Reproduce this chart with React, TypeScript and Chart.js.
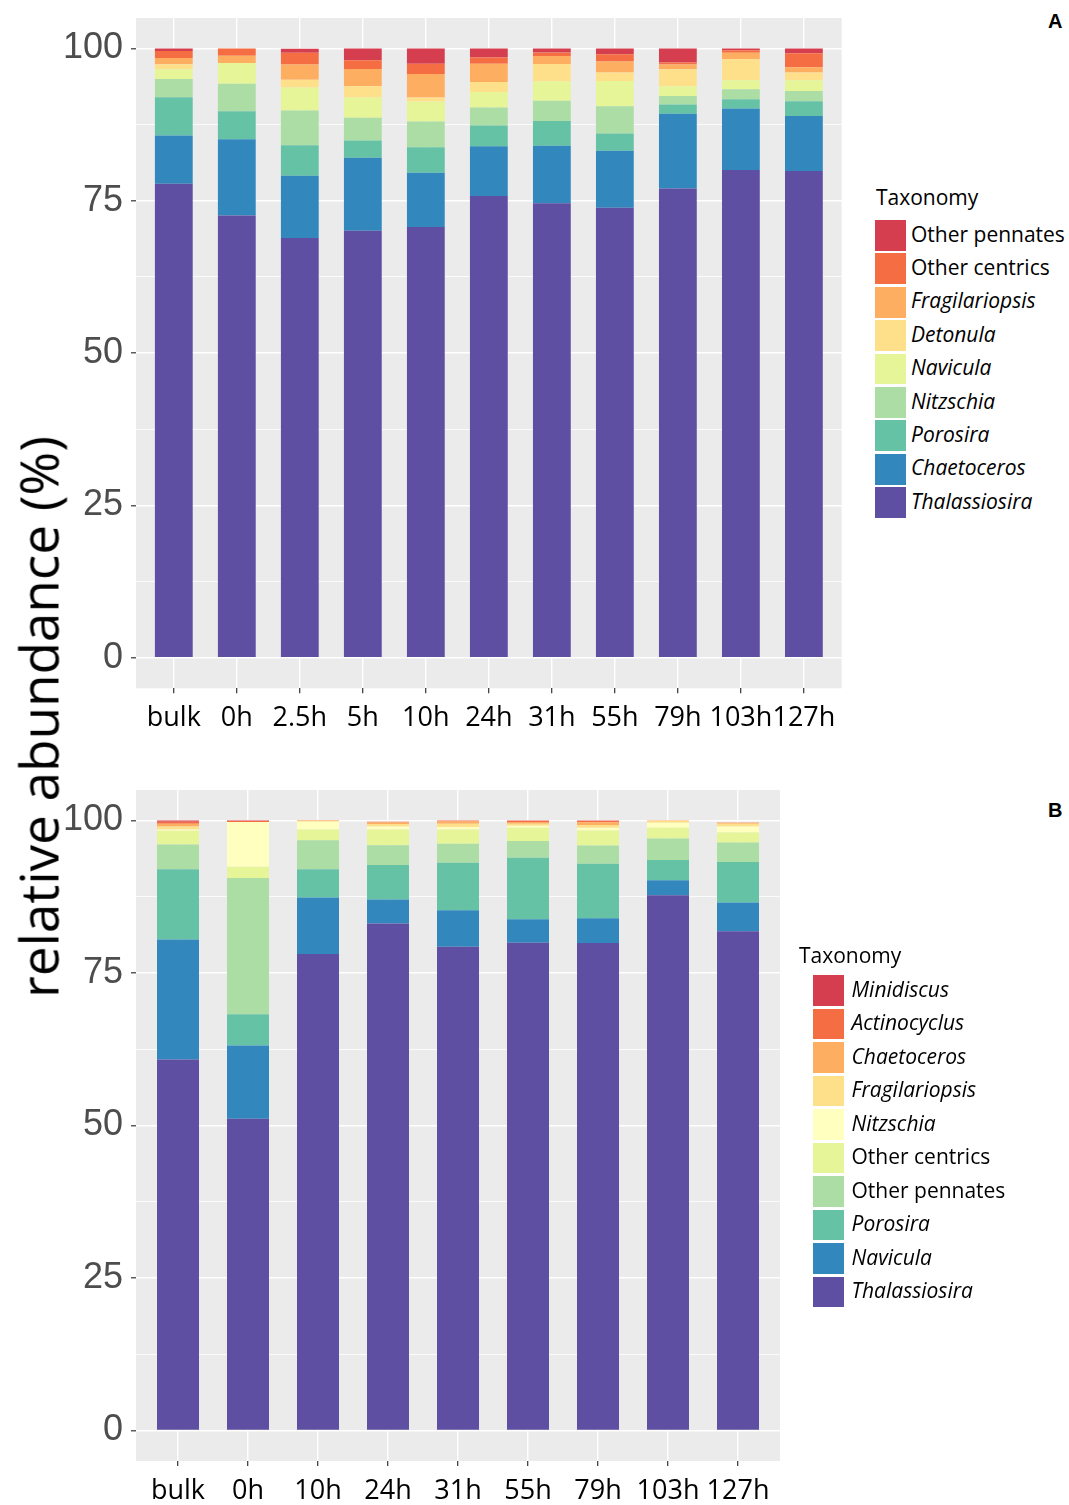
import React, { useEffect, useRef } from "react";
import { Chart, registerables } from "chart.js";

Chart.register(...registerables);

// ---------- Panel A data ----------
const categoriesA = ["bulk", "0h", "2.5h", "5h", "10h", "24h", "31h", "55h", "79h", "103h", "127h"];
const seriesNamesA = ["Thalassiosira", "Chaetoceros", "Porosira", "Nitzschia", "Navicula", "Detonula", "Fragilariopsis", "Other centrics", "Other pennates"];
const thalA = [77.8, 72.6, 68.9, 70.1, 70.7, 75.8, 74.6, 73.85, 77.0, 80.05, 79.9];
const chaetA = [7.9, 12.5, 10.2, 11.95, 8.9, 8.15, 9.45, 9.35, 12.3, 10.08, 9.0];
const poroA = [6.3, 4.6, 5.0, 2.85, 4.2, 3.4, 4.05, 2.85, 1.5, 1.54, 2.43];
const nitzA = [3.0, 4.5, 5.7, 3.75, 4.2, 2.95, 3.3, 4.45, 1.4, 1.64, 1.7];
const naviA = [1.6, 3.4, 3.8, 3.3, 3.3, 2.55, 3.2, 4.17, 1.6, 1.48, 1.76];
const detoA = [0.8, 0, 1.27, 1.85, 0.65, 1.65, 2.87, 1.38, 2.8, 3.45, 1.26];
const fragA = [1.05, 1.2, 2.5, 2.85, 3.85, 3.0, 1.31, 1.81, 0.77, 1.04, 0.88];
const otherCentricsA = [1.15, 1.2, 1.92, 1.43, 1.7, 1.0, 0.56, 1.2, 0.33, 0.44, 2.3];
const otherPennatesA = [0.4, 0, 0.66, 1.92, 2.5, 1.5, 0.66, 0.94, 2.3, 0.28, 0.77];
const colorsA = ["#5E4FA2", "#3288BD", "#66C2A5", "#ABDDA4", "#E6F598", "#FEE08B", "#FDAE61", "#F46D43", "#D53E4F"];
const italicA = [true, true, true, true, true, true, true, false, false];

// ---------- Panel B data ----------
const categoriesB = ["bulk", "0h", "10h", "24h", "31h", "55h", "79h", "103h", "127h"];
const seriesNamesB = ["Thalassiosira", "Navicula", "Porosira", "Other pennates", "Other centrics", "Nitzschia", "Fragilariopsis", "Chaetoceros", "Actinocyclus", "Minidiscus"];
const thalB = [60.8, 51.1, 78.1, 83.12, 79.3, 79.95, 79.9, 87.75, 81.86];
const naviB = [19.7, 12.0, 9.27, 3.92, 5.99, 3.87, 4.09, 2.45, 4.69];
const poroB = [11.5, 5.15, 4.63, 5.66, 7.8, 10.08, 8.93, 3.31, 6.64];
const otherPennatesB = [4.08, 22.32, 4.78, 3.26, 3.1, 2.72, 3.0, 3.55, 3.22];
const otherCentricsB = [2.22, 1.86, 1.75, 2.57, 2.34, 2.19, 2.45, 1.75, 1.63];
const nitzB = [0.23, 7.32, 1.25, 0.5, 0.42, 0.34, 0.43, 0.81, 0.98];
const fragB = [0.49, 0, 0.12, 0.4, 0.5, 0.3, 0.45, 0.28, 0.44];
const chaetB = [0.44, 0, 0.1, 0.25, 0.4, 0.3, 0.45, 0.1, 0.16];
const actinoB = [0.32, 0.15, 0.05, 0.1, 0.15, 0.2, 0.25, 0, 0.05];
const miniB = [0.22, 0.1, 0, 0, 0, 0.05, 0.05, 0, 0];
const colorsB = ["#5E4FA2", "#3288BD", "#66C2A5", "#ABDDA4", "#E6F598", "#FFFFBF", "#FEE08B", "#FDAE61", "#F46D43", "#D53E4F"];
const italicB = [true, true, true, false, false, true, true, true, true, true];

const yTicksMajor = [0, 25, 50, 75, 100];
const yTicksAll = [0, 12.5, 25, 37.5, 50, 62.5, 75, 87.5, 100];

const seriesA = [thalA, chaetA, poroA, nitzA, naviA, detoA, fragA, otherCentricsA, otherPennatesA];
const seriesB = [thalB, naviB, poroB, otherPennatesB, otherCentricsB, nitzB, fragB, chaetB, actinoB, miniB];

const panelBg = {
  id: "panelBg",
  beforeDraw(chart: any) {
    const { ctx, chartArea } = chart;
    ctx.save();
    ctx.fillStyle = "#EBEBEB";
    ctx.fillRect(chartArea.left, chartArea.top, chartArea.right - chartArea.left, chartArea.bottom - chartArea.top);
    ctx.restore();
  },
};

function makeChart(
  canvas: HTMLCanvasElement,
  cats: string[],
  names: string[],
  series: number[][],
  colors: string[],
  pad: { top: number; right: number },
  yWidth: number,
  xHeight: number
) {
  return new Chart(canvas, {
    type: "bar",
    data: {
      datasets: series.map((vals, si) => ({
        label: names[si],
        data: vals.map((v, i) => ({ x: i, y: v })),
        backgroundColor: colors[si],
        borderWidth: 0,
        barPercentage: 0.6,
        categoryPercentage: 1,
      })),
    },
    options: {
      animation: false,
      responsive: false,
      devicePixelRatio: 1,
      layout: { padding: { top: pad.top, right: pad.right, left: 0, bottom: 0 } },
      plugins: { legend: { display: false }, tooltip: { enabled: false } },
      scales: {
        x: {
          type: "linear",
          stacked: true,
          offset: false,
          min: -0.6,
          max: cats.length - 1 + 0.6,
          afterBuildTicks: (scale: any) => {
            scale.ticks = cats.map((_, i) => ({ value: i }));
          },
          afterFit: (scale: any) => {
            scale.height = xHeight;
            scale.paddingLeft = 0;
            scale.paddingRight = 0;
          },
          ticks: {
            autoSkip: false,
            maxRotation: 0,
            padding: 9,
            color: "#000",
            font: { family: "Open Sans", size: 27 },
            callback: (v: any) => cats[Math.round(Number(v))] ?? "",
          },
          grid: {
            offset: false,
            color: "#FFFFFF",
            lineWidth: 1.4,
            tickLength: 5,
            tickColor: "#333333",
            tickWidth: 1.2,
          },
          border: { display: false },
        },
        y: {
          type: "linear",
          stacked: true,
          min: -5,
          max: 105,
          afterBuildTicks: (scale: any) => {
            scale.ticks = yTicksAll.map((v) => ({ value: v }));
          },
          afterFit: (scale: any) => {
            scale.width = yWidth;
            scale.paddingTop = 0;
            scale.paddingBottom = 0;
          },
          ticks: {
            padding: 8,
            color: "#4D4D4D",
            font: { family: "Liberation Sans", size: 36 },
            callback: (v: any) => (yTicksMajor.includes(Number(v)) ? String(v) : ""),
          },
          grid: {
            color: "#FFFFFF",
            lineWidth: (c: any) => (c.tick && yTicksMajor.includes(c.tick.value) ? 1.6 : 0.8),
            tickLength: 5,
            tickColor: (c: any) => (c.tick && yTicksMajor.includes(c.tick.value) ? "#333333" : "rgba(0,0,0,0)"),
            tickWidth: 1.2,
          },
          border: { display: false },
        },
      },
    },
    plugins: [panelBg],
  } as any);
}

function Legend(props: { left: number; top: number; boxLeft: number; textLeft: number; firstBoxTop: number; pitch: number; names: string[]; colors: string[]; italics: boolean[] }) {
  const { left, top, boxLeft, textLeft, firstBoxTop, pitch, names, colors, italics } = props;
  const order = names.map((_, i) => i).reverse();
  return (
    <>
      <div style={{ position: "absolute", left, top, fontFamily: "Open Sans", fontSize: 21, lineHeight: "24px", color: "#000", whiteSpace: "nowrap" }}>
        Taxonomy
      </div>
      {order.map((si, k) => (
        <React.Fragment key={names[si]}>
          <div style={{ position: "absolute", left: boxLeft, top: firstBoxTop + k * pitch, width: 31, height: pitch - 2.6, background: colors[si] }} />
          <div
            style={{
              position: "absolute",
              left: textLeft,
              top: firstBoxTop + k * pitch - 1.5,
              height: pitch - 2.6,
              lineHeight: `${pitch - 2.6}px`,
              fontFamily: "Open Sans",
              fontSize: 21,
              fontStyle: italics[si] ? "italic" : "normal",
              color: "#000",
              whiteSpace: "nowrap",
            }}
          >
            {names[si]}
          </div>
        </React.Fragment>
      ))}
    </>
  );
}

export default function App() {
  const refA = useRef<HTMLCanvasElement>(null);
  const refB = useRef<HTMLCanvasElement>(null);

  useEffect(() => {
    const a = makeChart(refA.current!, categoriesA, seriesNamesA, seriesA, colorsA, { top: 18, right: 18.3 }, 136, 51.7);
    const b = makeChart(refB.current!, categoriesB, seriesNamesB, seriesB, colorsB, { top: 30, right: 20 }, 136, 44);
    return () => {
      a.destroy();
      b.destroy();
    };
  }, []);

  return (
    <div style={{ position: "absolute", left: 0, top: 0, width: 1069, height: 1505, background: "#fff", overflow: "hidden" }}>
      <canvas ref={refA} width={860} height={740} style={{ position: "absolute", left: 0, top: 0, width: 860, height: 740 }} />
      <canvas ref={refB} width={800} height={745} style={{ position: "absolute", left: 0, top: 760, width: 800, height: 745 }} />
      <div
        style={{
          position: "absolute",
          left: 38,
          top: 717,
          transform: "translate(-50%, -50%) rotate(-90deg)",
          fontFamily: "Open Sans",
          fontSize: 53,
          lineHeight: 1,
          color: "#000",
          whiteSpace: "nowrap",
        }}
      >
        relative abundance (%)
      </div>
      <div style={{ position: "absolute", left: 1048, top: 10, fontFamily: "Liberation Sans", fontWeight: "bold", fontSize: 20, color: "#000" }}>A</div>
      <div style={{ position: "absolute", left: 1048, top: 799, fontFamily: "Liberation Sans", fontWeight: "bold", fontSize: 20, color: "#000" }}>B</div>
      <Legend left={876} top={185} boxLeft={874.5} textLeft={911} firstBoxTop={220} pitch={33.4} names={seriesNamesA} colors={colorsA} italics={italicA} />
      <Legend left={799} top={943} boxLeft={813} textLeft={851.5} firstBoxTop={975} pitch={33.5} names={seriesNamesB} colors={colorsB} italics={italicB} />
    </div>
  );
}
